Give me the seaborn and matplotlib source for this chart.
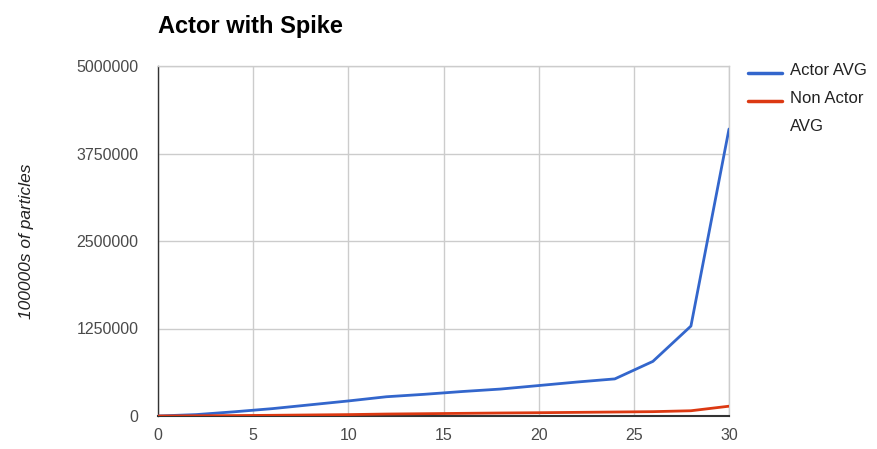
import matplotlib
matplotlib.use("Agg")
import matplotlib.pyplot as plt
from matplotlib.lines import Line2D
import pandas as pd
import seaborn as sns

# Particle counts sampled every 2 steps
steps = [0, 2, 4, 6, 8, 10, 12, 14, 16, 18, 20, 22, 24, 26, 28, 30]
actor_avg = [0, 20000, 60000, 105000, 160000, 215000, 275000, 310000, 350000,
             385000, 435000, 485000, 530000, 780000, 1285000, 4100000]
non_actor_avg = [0, 3000, 6000, 10000, 15000, 20000, 28000, 33000, 38000,
                 43000, 47000, 52000, 57000, 62000, 75000, 140000]

series_names = ["Actor AVG", "Non Actor AVG"]
legend_labels = ["Actor AVG", "Non Actor\nAVG"]
series_colors = ["#3366cc", "#dc3912"]
x_ticks = [0, 5, 10, 15, 20, 25, 30]
y_ticks = [0, 1250000, 2500000, 3750000, 5000000]

df = pd.concat([
    pd.DataFrame({"step": steps, "particles": actor_avg, "series": series_names[0]}),
    pd.DataFrame({"step": steps, "particles": non_actor_avg, "series": series_names[1]}),
])

sns.set_theme(style="white")
plt.rcParams["font.family"] = ["Liberation Sans", "DejaVu Sans"]

W, H = 877, 449
fig = plt.figure(figsize=(W / 100, H / 100), dpi=100)
ax = fig.add_axes([158 / W, 1 - 416 / H, 571 / W, 350 / H])

sns.lineplot(data=df, x="step", y="particles", hue="series",
             palette=dict(zip(series_names, series_colors)),
             linewidth=2.0, ax=ax, zorder=3, legend=False)

ax.set_xlim(0, 30)
ax.set_ylim(0, 5000000)
ax.set_xticks(x_ticks)
ax.set_yticks(y_ticks)
ax.set_yticklabels([str(v) for v in y_ticks])
ax.grid(True, color="#cccccc", linewidth=1.0)
ax.set_axisbelow(True)
ax.tick_params(axis="both", length=0, labelsize=11.5, colors="#4a4a4a")
ax.tick_params(axis="y", pad=14)
ax.tick_params(axis="x", pad=9)

for side in ("top", "right"):
    ax.spines[side].set_color("#cccccc")
    ax.spines[side].set_linewidth(1.0)
ax.spines["left"].set_color("#333333")
ax.spines["left"].set_linewidth(1.0)
ax.spines["bottom"].set_color("#333333")
ax.spines["bottom"].set_linewidth(1.5)

ax.set_xlabel("")
ax.set_ylabel("100000s of particles", fontsize=12.5, style="italic", color="#222222")
ax.yaxis.set_label_coords(-0.218, 0.5)

fig.text(158 / W, 1 - 33 / H, "Actor with Spike", fontsize=17, fontweight="bold",
         color="#000000", va="baseline", ha="left")

# Legend drawn to the right of the plot, wrapped labels aligned on their first line
legend_rows = [73, 101]
for label, color, row in zip(legend_labels, series_colors, legend_rows):
    y = 1 - row / H
    fig.add_artist(Line2D([748 / W, 782 / W], [y, y], transform=fig.transFigure,
                          color=color, linewidth=2.5))
    fig.text(790 / W, y + 10 / H, label, fontsize=12, color="#222222", ha="left",
             va="top", linespacing=2.05, transform=fig.transFigure)

fig.savefig("out.png", dpi=100)
